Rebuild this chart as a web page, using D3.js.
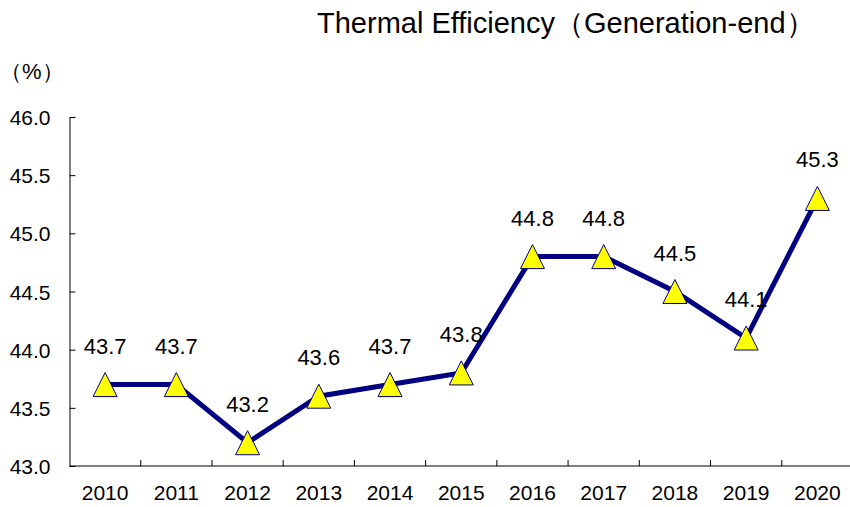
<!DOCTYPE html>
<html>
<head>
<meta charset="utf-8">
<script src="https://cdn.jsdelivr.net/npm/d3@7"></script>
<style>
  body { margin: 0; background: #fff; }
  text { font-family: "Liberation Sans", Arial, sans-serif; fill: #000; }
</style>
</head>
<body>
<svg id="chart" width="850" height="507"></svg>
<script>
const years = ["2010", "2011", "2012", "2013", "2014", "2015", "2016", "2017", "2018", "2019", "2020"];
const efficiency = [43.7, 43.7, 43.2, 43.6, 43.7, 43.8, 44.8, 44.8, 44.5, 44.1, 45.3];
const yTicks = [43.0, 43.5, 44.0, 44.5, 45.0, 45.5, 46.0];

const margin = { top: 117, right: -3, bottom: 41, left: 69.5 };
const width = 850 - margin.left - margin.right;
const height = 507 - margin.top - margin.bottom;

const svg = d3.select("#chart");
const g = svg.append("g")
    .attr("transform", `translate(${margin.left},${margin.top})`);

const x = d3.scaleBand()
    .domain(years)
    .range([0, width]);

const y = d3.scaleLinear()
    .domain([43, 46])
    .range([height, 0]);

// y axis, ticks point inward
g.append("g")
    .call(d3.axisLeft(y).tickValues(yTicks).tickFormat(d3.format(".1f")).tickSize(-6).tickPadding(19).tickSizeOuter(0))
    .call(ax => ax.selectAll("text").style("font-size", "21px").attr("dy", "0.36em"))
    .call(ax => ax.selectAll("line, path").attr("stroke", "#000"));

// x axis, ticks at band boundaries pointing up
const xAxis = g.append("g")
    .attr("transform", `translate(0,${height})`);
xAxis.append("line")
    .attr("x1", 0).attr("x2", width)
    .attr("stroke", "#000");
xAxis.selectAll(".bt")
    .data(years.slice(1))
    .join("line")
    .attr("x1", d => x(d)).attr("x2", d => x(d))
    .attr("y1", 0).attr("y2", -6)
    .attr("stroke", "#000");
xAxis.selectAll(".xl")
    .data(years)
    .join("text")
    .attr("x", d => x(d) + x.bandwidth() / 2)
    .attr("y", 34)
    .attr("text-anchor", "middle")
    .style("font-size", "21px")
    .text(d => d);

const pts = years.map((yr, i) => ({ yr, v: efficiency[i] }));

const line = d3.line()
    .x(d => x(d.yr) + x.bandwidth() / 2)
    .y(d => y(d.v));

g.append("path")
    .datum(pts)
    .attr("d", line)
    .attr("fill", "none")
    .attr("stroke", "#000080")
    .attr("stroke-width", 5)
    .attr("stroke-linejoin", "miter");

// triangle marker 24 wide, 24 tall, centred on the point
const triangle = {
    draw(ctx) {
        ctx.moveTo(0, -12);
        ctx.lineTo(12, 12);
        ctx.lineTo(-12, 12);
        ctx.closePath();
    }
};
g.selectAll(".mk")
    .data(pts)
    .join("path")
    .attr("transform", d => `translate(${x(d.yr) + x.bandwidth() / 2},${y(d.v)})`)
    .attr("d", d3.symbol().type(triangle))
    .attr("fill", "#ffff00")
    .attr("stroke", "#000080")
    .attr("stroke-width", 1);

g.selectAll(".lbl")
    .data(pts)
    .join("text")
    .attr("x", d => x(d.yr) + x.bandwidth() / 2)
    .attr("y", d => y(d.v) - 31)
    .attr("text-anchor", "middle")
    .style("font-size", "22px")
    .text(d => d3.format(".1f")(d.v));

svg.append("text")
    .attr("x", 317)
    .attr("y", 33)
    .style("font-size", "29px")
    .text("Thermal Efficiency（Generation-end）");

svg.append("text")
    .attr("x", 0)
    .attr("y", 79)
    .style("font-size", "22px")
    .text("（%）");
</script>
</body>
</html>
